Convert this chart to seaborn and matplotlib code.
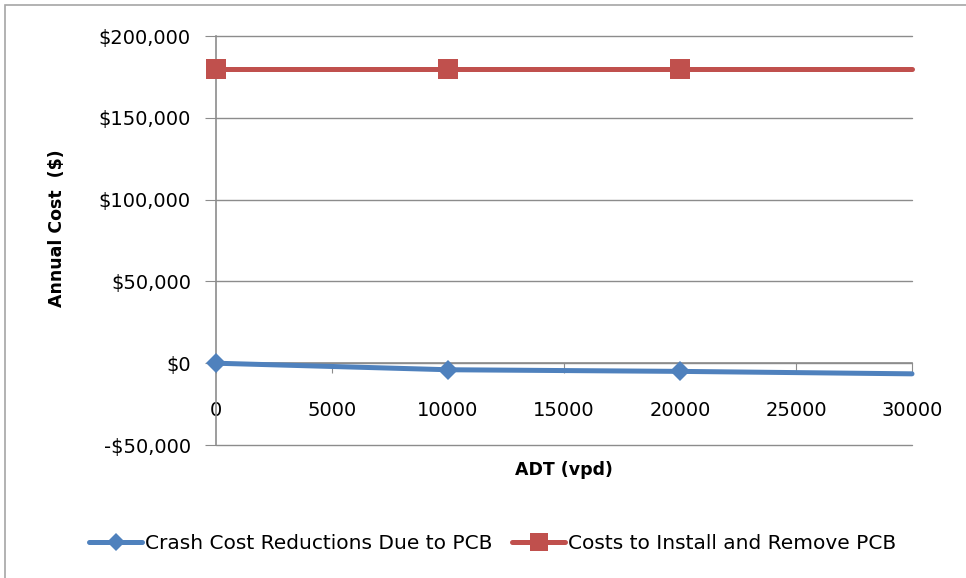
import pandas as pd
import matplotlib.pyplot as plt
import seaborn as sns
from matplotlib.patches import Rectangle
from matplotlib.ticker import FuncFormatter, MultipleLocator

# data
adt = [0, 10000, 20000, 30000]
crash_reduction = [0, -4000, -5000, -6500]
install_cost = [180000, 180000, 180000, 180000]
names = ['Crash Cost Reductions Due to PCB', 'Costs to Install and Remove PCB']

df = pd.DataFrame({
    'ADT': adt * 2,
    'cost': crash_reduction + install_cost,
    'series': [names[0]] * 4 + [names[1]] * 4,
})

sns.set_style('white')
plt.rcParams['font.family'] = ['DejaVu Sans']
plt.rcParams['text.color'] = 'black'

fig = plt.figure(figsize=(9.66, 5.78), dpi=100)
ax = fig.add_axes([0.2236, 0.2301, 0.7205, 0.7076])

fig.patches.append(Rectangle((5 / 966, -0.1), 1.2, 1.1 - 5 / 578, transform=fig.transFigure,
                             fill=False, edgecolor='#a6a6a6', linewidth=1.2))

colors = ['#4f81bd', '#c0504d']
markers = ['D', 's']
msizes = [10, 14]
for name, c, m, ms in zip(names, colors, markers, msizes):
    sns.lineplot(data=df[df['series'] == name], x='ADT', y='cost', ax=ax, color=c,
                 marker=m, markersize=ms, markeredgewidth=0, linewidth=3.6,
                 markevery=[0, 1, 2], label=name, clip_on=False, zorder=3)

ax.set_xlim(0, 30000)
ax.set_ylim(-50000, 200000)
ax.xaxis.set_major_locator(MultipleLocator(5000))
ax.yaxis.set_major_locator(MultipleLocator(50000))
ax.yaxis.set_major_formatter(FuncFormatter(lambda v, p: ('-$' if v < 0 else '$') + f'{abs(v):,.0f}'))

ax.grid(axis='y', color='#8c8c8c', linewidth=1)
for gl in ax.get_ygridlines():
    gl.set_clip_on(False)
for s in ['top', 'right']:
    ax.spines[s].set_visible(False)
ax.spines['bottom'].set_position(('data', 0))
for s in ['left', 'bottom']:
    ax.spines[s].set_color('#8c8c8c')
    ax.spines[s].set_linewidth(1.2)

ax.tick_params(axis='x', direction='out', length=7, color='#8c8c8c', pad=20,
               labelsize=14, labelcolor='black')
ax.tick_params(axis='y', direction='out', length=8, color='#8c8c8c', pad=10,
               labelsize=14, labelcolor='black')
ax.tick_params(bottom=True, left=True)

ax.set_xlabel('ADT (vpd)', fontsize=12.5, fontweight='bold', color='black')
ax.xaxis.set_label_coords(0.5, -0.04)
ax.set_ylabel('Annual Cost  ($)', fontsize=12.5, fontweight='bold', color='black')
ax.yaxis.set_label_coords(-0.215, 0.53)

ax.legend_.remove()
handles, labels = ax.get_legend_handles_labels()
fig.legend(handles, labels, loc='center', bbox_to_anchor=(0.51, 0.06), ncol=2,
           frameon=False, fontsize=14.5, handlelength=2.6, handletextpad=0.15,
           columnspacing=1.0, markerscale=0.9)

fig.savefig('out.png', dpi=100)
